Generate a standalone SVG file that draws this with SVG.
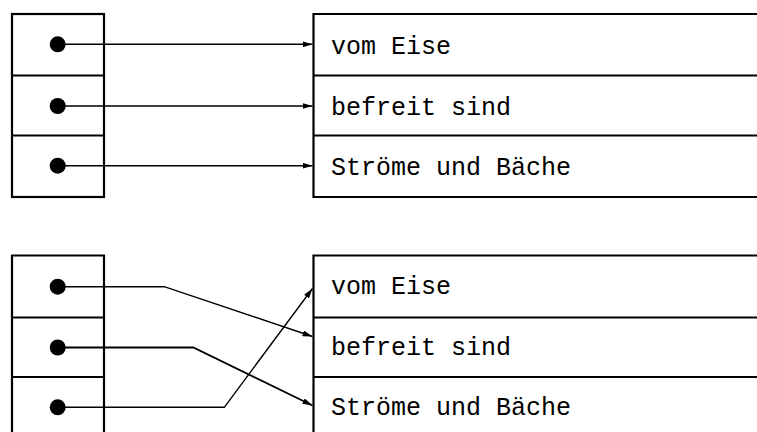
<svg xmlns="http://www.w3.org/2000/svg" width="757" height="432" viewBox="0 0 757 432">
<defs>
<style>
.box{fill:none;stroke:#000;stroke-width:2.2}
.dot{fill:#000}
.con{fill:none;stroke:#000;stroke-width:1.4}
.lbl{font-family:"Liberation Mono","DejaVu Sans Mono",monospace;font-size:25px;fill:#000}
</style>
<marker id="ah" viewBox="0 0 10 6" refX="10" refY="3" markerWidth="10" markerHeight="6" markerUnits="userSpaceOnUse" orient="auto">
<path d="M0,0 L10,3 L0,6 z" fill="#000"/>
</marker>
</defs>
<rect width="757" height="432" fill="#fff"/>
<g id="top-left">
<rect class="box" x="12" y="14" width="92" height="183"/>
<line class="box" x1="12" y1="75.5" x2="104" y2="75.5"/>
<line class="box" x1="12" y1="135.5" x2="104" y2="135.5"/>
<circle class="dot" cx="57.7" cy="44.3" r="8"/>
<circle class="dot" cx="57.7" cy="106" r="8"/>
<circle class="dot" cx="57.7" cy="165.7" r="8"/>
</g>
<g id="top-right">
<path class="box" d="M760,14 H313.5 V197 H760"/>
<line class="box" x1="313.5" y1="75.5" x2="760" y2="75.5"/>
<line class="box" x1="313.5" y1="135.5" x2="760" y2="135.5"/>
<text class="lbl" x="331" y="53.5">vom Eise</text>
<text class="lbl" x="331" y="114.5">befreit sind</text>
<text class="lbl" x="331" y="175">Ströme und Bäche</text>
</g>
<g id="bottom-left">
<path class="box" d="M12,440 V255.5 H104 V440"/>
<line class="box" x1="12" y1="317.5" x2="104" y2="317.5"/>
<line class="box" x1="12" y1="377" x2="104" y2="377"/>
<circle class="dot" cx="57.7" cy="286.7" r="8"/>
<circle class="dot" cx="57.7" cy="347.5" r="8"/>
<circle class="dot" cx="57.7" cy="407.3" r="8"/>
</g>
<g id="bottom-right">
<path class="box" d="M760,255.5 H313.5 V440"/>
<line class="box" x1="313.5" y1="317.5" x2="760" y2="317.5"/>
<line class="box" x1="313.5" y1="377" x2="760" y2="377"/>
<text class="lbl" x="331" y="293.5">vom Eise</text>
<text class="lbl" x="331" y="355">befreit sind</text>
<text class="lbl" x="331" y="415">Ströme und Bäche</text>
</g>
<g id="connectors">
<line class="con" x1="57.7" y1="44.3" x2="312.5" y2="44.3" marker-end="url(#ah)"/>
<line class="con" x1="57.7" y1="106" x2="312.5" y2="106" marker-end="url(#ah)"/>
<line class="con" x1="57.7" y1="165.7" x2="312.5" y2="165.7" marker-end="url(#ah)"/>
<polyline class="con" points="57.7,286.7 164.3,286.7 312.5,336.5" marker-end="url(#ah)"/>
<polyline class="con" points="57.7,347.5 193.3,347.5 312.5,405.5" marker-end="url(#ah)" style="stroke-width:1.8"/>
<polyline class="con" points="57.7,407.3 224.3,407.3 312.5,288.5" marker-end="url(#ah)"/>
</g>
</svg>
